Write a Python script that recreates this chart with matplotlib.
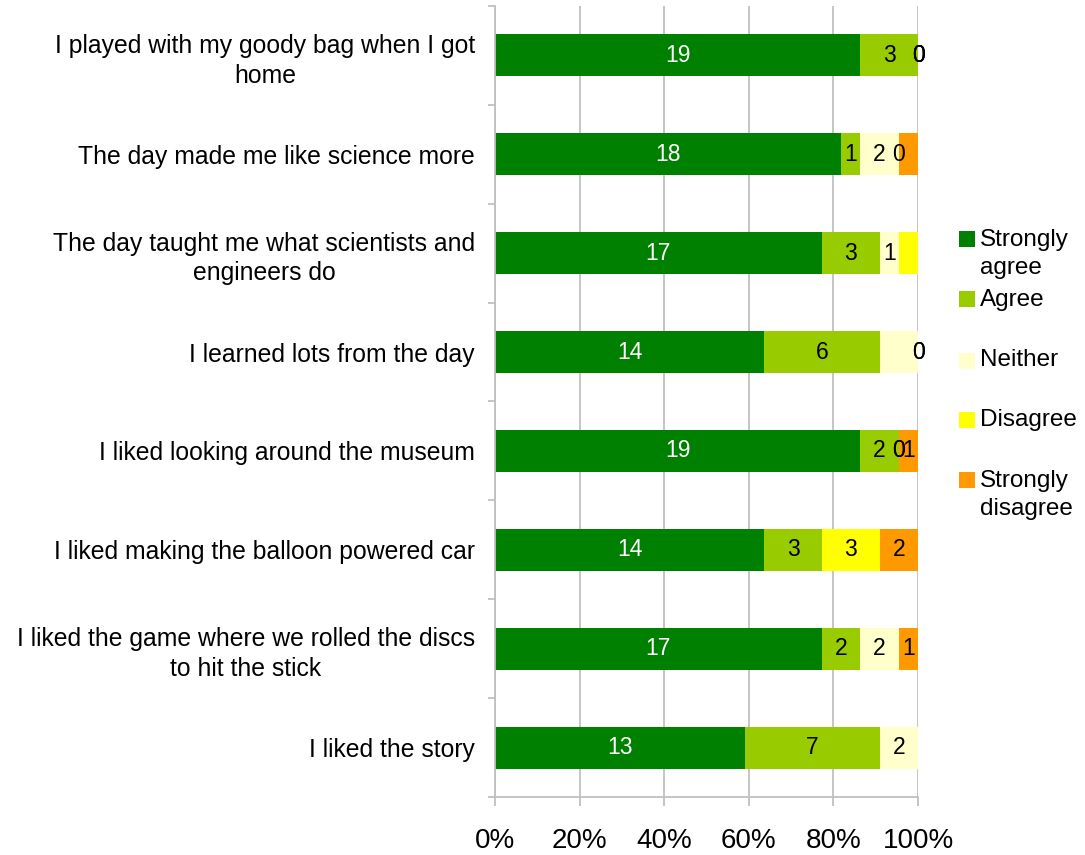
import matplotlib
matplotlib.use("Agg")
import matplotlib.pyplot as plt
from matplotlib.patches import Rectangle
import numpy as np

plt.rcParams['font.family'] = ['Liberation Sans', 'DejaVu Sans']

statements = [
    "I played with my goody bag when I got\nhome",
    "The day made me like science more",
    "The day taught me what scientists and\nengineers do",
    "I learned lots from the day",
    "I liked looking around the museum",
    "I liked making the balloon powered car",
    "I liked the game where we rolled the discs\nto hit the stick",
    "I liked the story",
]
responses = ["Strongly\nagree", "Agree", "Neither", "Disagree", "Strongly\ndisagree"]
colors = ["#008000", "#99CC00", "#FFFFCC", "#FFFF00", "#FF9900"]

strongly_agree    = [19, 18, 17, 14, 19, 14, 17, 13]
agree             = [3, 1, 3, 6, 2, 3, 2, 7]
neither           = [0, 2, 1, 2, 0, 0, 2, 2]
disagree          = [0, 0, 1, 0, 0, 3, 0, 0]
strongly_disagree = [0, 1, 0, 0, 1, 2, 1, 0]

# which data labels are displayed for each statement (one flag per response)
label_shown = [
    [1, 1, 1, 1, 1],
    [1, 1, 1, 1, 0],
    [1, 1, 1, 0, 0],
    [1, 1, 0, 1, 1],
    [1, 1, 1, 1, 1],
    [1, 1, 0, 1, 1],
    [1, 1, 1, 0, 1],
    [1, 1, 1, 0, 0],
]

W, H, DPI = 1085, 855, 100
PX = 72 / DPI  # points per pixel
fig = plt.figure(figsize=(W / DPI, H / DPI), dpi=DPI)
ax = fig.add_axes([495 / W, 58 / H, 423 / W, 791 / H])

counts = np.array([strongly_agree, agree, neither, disagree, strongly_disagree], dtype=float)
totals = counts.sum(axis=0)
pct = counts / totals * 100
y = np.arange(len(statements))
left = np.zeros(len(statements))
grid_col = "#C0C0C0"

ax.set_axisbelow(True)
ax.xaxis.grid(True, color=grid_col, linewidth=1.3)

for k in range(len(responses)):
    ax.barh(y, pct[k], left=left, height=0.425, color=colors[k], zorder=2)
    for i in range(len(statements)):
        if label_shown[i][k]:
            cx = left[i] + pct[k][i] / 2
            ax.text(cx, y[i], f"{int(counts[k][i])}", ha='center', va='center',
                    fontsize=16.5, color='white' if k == 0 else 'black', zorder=3)
    left += pct[k]

ax.set_xlim(0, 100)
ax.set_ylim(len(statements) - 0.5, -0.5)
ax.set_xticks(np.arange(0, 101, 20))
ax.set_xticklabels([f"{v}%" for v in range(0, 101, 20)], fontsize=20)
ax.set_yticks(y)
ax.set_yticklabels(statements, fontsize=17.8, multialignment='center', linespacing=1.3)
ax.set_yticks(np.arange(-0.5, len(statements), 1), minor=True)
ax.tick_params(axis='y', which='major', length=0, pad=20 * PX)
ax.tick_params(axis='y', which='minor', length=7 * PX, color=grid_col, width=1.3)
ax.tick_params(axis='x', length=9 * PX, color=grid_col, width=1.3, pad=22 * PX)

for s in ['top', 'right']:
    ax.spines[s].set_visible(False)
for s in ['left', 'bottom']:
    ax.spines[s].set_color(grid_col)
    ax.spines[s].set_linewidth(1.3)

# legend: square beside the first line of each entry
legend_centers = [239.5, 299.5, 360.5, 420, 480.5]
line_step = 28
for lab, col, cy in zip(responses, colors, legend_centers):
    fig.patches.append(Rectangle((959 / W, 1 - (cy + 8) / H), 16 / W, 16 / H,
                                 transform=fig.transFigure, facecolor=col,
                                 edgecolor='none'))
    for j, line in enumerate(lab.split("\n")):
        fig.text(980 / W, 1 - (cy + 6 + j * line_step) / H, line,
                 ha='left', va='baseline', fontsize=17.5)

fig.savefig("out.png", dpi=DPI)
